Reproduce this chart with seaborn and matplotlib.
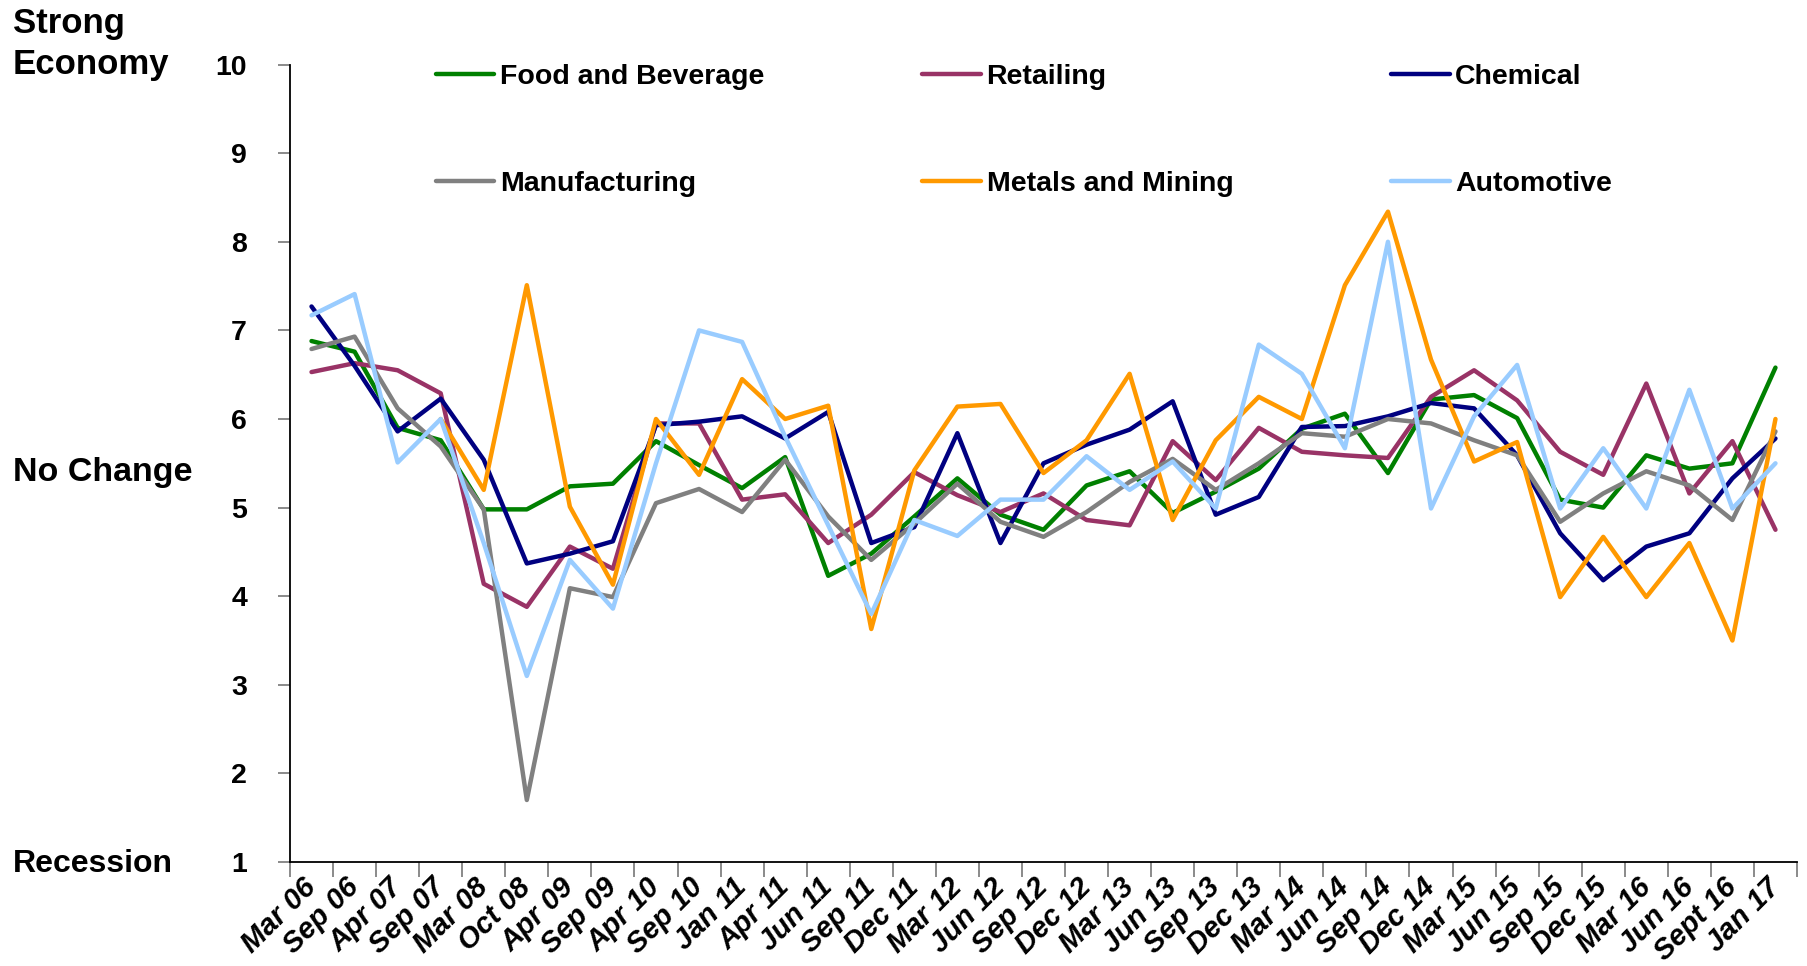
import pandas as pd
import matplotlib.pyplot as plt
import seaborn as sns
from matplotlib.lines import Line2D
from matplotlib.ticker import FixedLocator

# survey periods (x axis categories)
months = ['Mar 06', 'Sep 06', 'Apr 07', 'Sep 07', 'Mar 08', 'Oct 08', 'Apr 09', 'Sep 09',
          'Apr 10', 'Sep 10', 'Jan 11', 'Apr 11', 'Jun 11', 'Sep 11', 'Dec 11', 'Mar 12',
          'Jun 12', 'Sep 12', 'Dec 12', 'Mar 13', 'Jun 13', 'Sep 13', 'Dec 13', 'Mar 14',
          'Jun 14', 'Sep 14', 'Dec 14', 'Mar 15', 'Jun 15', 'Sep 15', 'Dec 15', 'Mar 16',
          'Jun 16', 'Sept 16', 'Jan 17']

food = [6.88, 6.76, 5.90, 5.76, 4.98, 4.98, 5.24, 5.27, 5.75, 5.48, 5.22, 5.57, 4.23, 4.48,
        4.90, 5.33, 4.92, 4.75, 5.25, 5.41, 4.94, 5.18, 5.44, 5.89, 6.06, 5.39, 6.22, 6.27,
        6.01, 5.09, 5.00, 5.59, 5.44, 5.50, 6.58]
retail = [6.53, 6.63, 6.55, 6.29, 4.14, 3.88, 4.56, 4.31, 5.95, 5.95, 5.09, 5.15, 4.60, 4.92,
          5.40, 5.14, 4.95, 5.16, 4.86, 4.80, 5.75, 5.31, 5.90, 5.63, 5.59, 5.56, 6.25, 6.55,
          6.21, 5.63, 5.37, 6.40, 5.16, 5.75, 4.75]
chemical = [7.27, 6.60, 5.86, 6.23, 5.54, 4.37, 4.48, 4.62, 5.93, 5.97, 6.03, 5.78, 6.08, 4.60,
            4.78, 5.84, 4.60, 5.50, 5.71, 5.88, 6.20, 4.92, 5.12, 5.91, 5.92, 6.03, 6.18, 6.12,
            5.59, 4.71, 4.18, 4.56, 4.71, 5.33, 5.78]
manufacturing = [6.79, 6.93, 6.12, 5.69, 4.98, 1.70, 4.09, 3.99, 5.05, 5.21, 4.95, 5.54, 4.90,
                 4.41, 4.82, 5.27, 4.84, 4.67, 4.95, 5.29, 5.55, 5.20, 5.50, 5.84, 5.80, 6.00,
                 5.95, 5.76, 5.59, 4.84, 5.16, 5.41, 5.25, 4.86, 5.86]
metals = [None, None, None, 6.00, 5.20, 7.51, 5.01, 4.13, 6.00, 5.37, 6.45, 6.00, 6.15, 3.63,
          5.42, 6.14, 6.17, 5.39, 5.76, 6.51, 4.86, 5.76, 6.25, 6.00, 7.51, 8.34, 6.67, 5.52,
          5.74, 3.99, 4.67, 3.99, 4.60, 3.50, 6.00]
automotive = [7.17, 7.41, 5.51, 6.00, 4.60, 3.10, 4.41, 3.86, 5.50, 7.00, 6.87, 5.80, 4.80, 3.80,
              4.86, 4.68, 5.09, 5.09, 5.58, 5.20, 5.52, 4.99, 6.84, 6.51, 5.67, 8.00, 4.99, 6.03,
              6.61, 4.99, 5.67, 4.99, 6.33, 4.99, 5.50]

series = {
    'Food and Beverage': food,
    'Retailing': retail,
    'Chemical': chemical,
    'Manufacturing': manufacturing,
    'Metals and Mining': metals,
    'Automotive': automotive,
}
colors = {
    'Food and Beverage': '#008000',
    'Retailing': '#993366',
    'Chemical': '#000080',
    'Manufacturing': '#808080',
    'Metals and Mining': '#FF9900',
    'Automotive': '#99CCFF',
}

rows = []
for name, vals in series.items():
    for i, v in enumerate(vals):
        rows.append({'pos': i, 'sector': name, 'score': v})
df = pd.DataFrame(rows)
df['score'] = pd.to_numeric(df['score'])

sns.set_style('white')
plt.rcParams['font.family'] = ['Liberation Sans', 'DejaVu Sans']
plt.rcParams['text.color'] = 'black'
plt.rcParams['xtick.labelcolor'] = 'black'
plt.rcParams['ytick.labelcolor'] = 'black'

fig = plt.figure(figsize=(18.08, 9.66), dpi=100)
ax = fig.add_axes([290 / 1808, 1 - 862 / 966, (1797 - 290) / 1808, (862 - 64.6) / 966])

lw = 3.2
sns.lineplot(data=df, x='pos', y='score', hue='sector', hue_order=list(series.keys()),
             palette=colors, linewidth=lw, estimator=None, sort=False, legend=False, ax=ax)

ax.set_xlim(-0.5, len(months) - 0.5)
ax.set_ylim(1, 10)
ax.set_xlabel('')
ax.set_ylabel('')

# labels at category centres, tick marks on the boundaries
ax.set_xticks(range(len(months)))
ax.set_xticklabels(months, rotation=45, ha='right', va='center', rotation_mode='anchor',
                   fontsize=21, fontweight='bold', fontstyle='italic')
ax.xaxis.set_minor_locator(FixedLocator([i - 0.5 for i in range(len(months) + 1)]))
ax.tick_params(axis='x', which='major', length=0, pad=15)
ax.tick_params(axis='x', which='minor', length=11, width=1.2, color='#777777', direction='out')
ax.xaxis.set_ticks_position('bottom')

ax.set_yticks(range(1, 11))
ax.set_yticklabels([str(v) for v in range(1, 11)], fontsize=20.5, fontweight='bold')
ax.tick_params(axis='y', length=9, width=1.2, color='#777777', direction='out', pad=22, left=True)

for side in ['top', 'right']:
    ax.spines[side].set_visible(False)
for side in ['left', 'bottom']:
    ax.spines[side].set_color('black')
    ax.spines[side].set_linewidth(1.3)

# left side descriptors
fig.text(13 / 1808, 1 - 44 / 966, 'Strong\nEconomy', fontsize=25, fontweight='bold',
         ha='left', va='center', linespacing=1.3)
fig.text(13 / 1808, 1 - 472 / 966, 'No Change', fontsize=24.5, fontweight='bold',
         ha='left', va='center')
fig.text(13 / 1808, 1 - 864 / 966, 'Recession', fontsize=23, fontweight='bold',
         ha='left', va='center')

# legend, two rows of three
order = ['Food and Beverage', 'Manufacturing', 'Retailing', 'Metals and Mining',
         'Chemical', 'Automotive']
handles = [Line2D([0], [0], color=colors[n], linewidth=lw, solid_capstyle='round') for n in order]
ax.legend(handles, order, ncol=3, loc='upper left', bbox_to_anchor=(436 / 1808, 1 - 64 / 966),
          bbox_transform=fig.transFigure, frameon=False,
          prop={'weight': 'bold', 'size': 20.5}, handlelength=2.05, handletextpad=0.2,
          columnspacing=5.55, labelspacing=2.85, borderpad=0, borderaxespad=0)

fig.savefig('out.png', dpi=100)
